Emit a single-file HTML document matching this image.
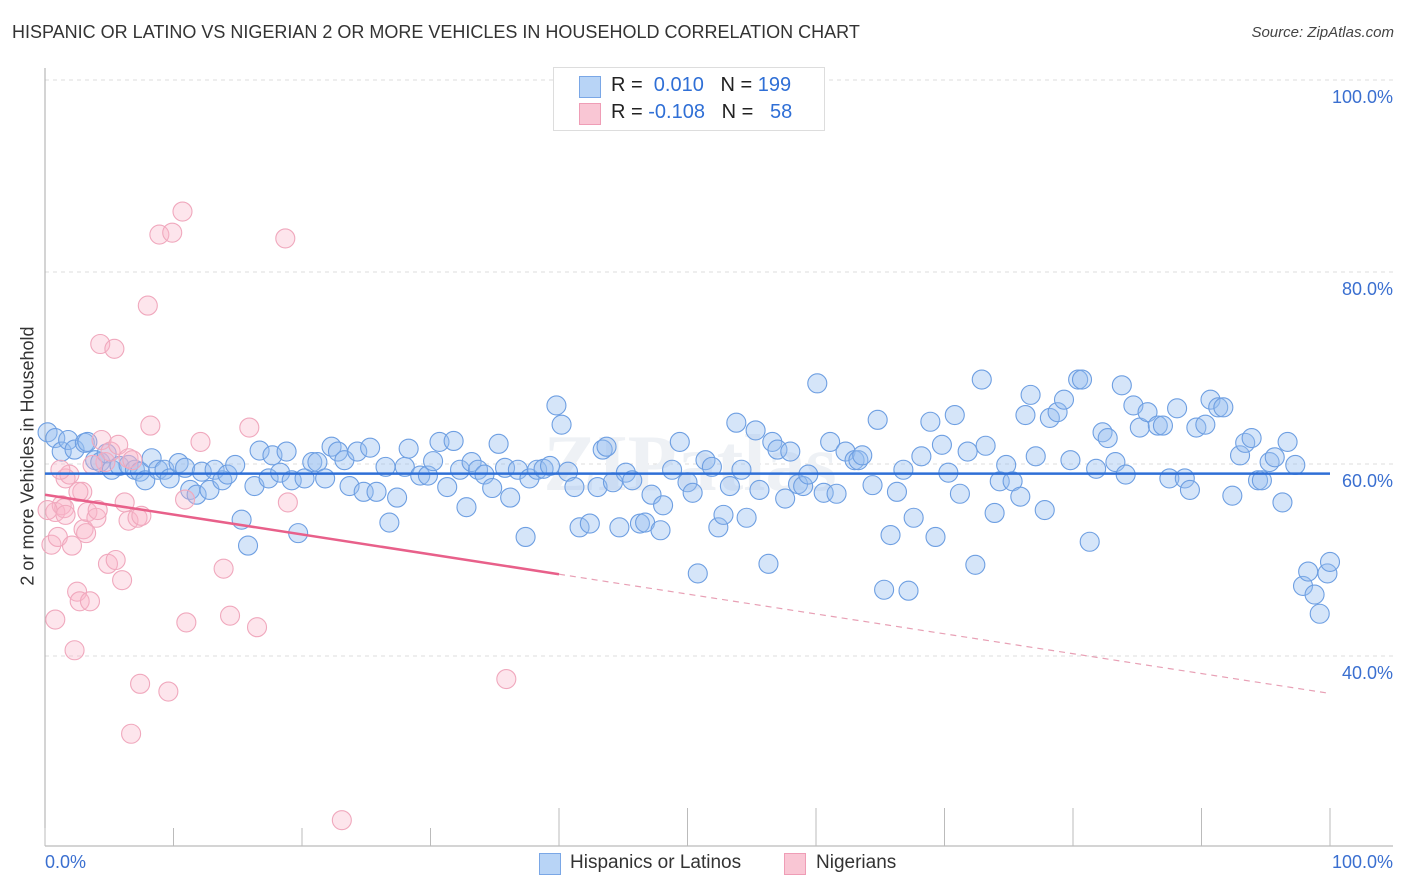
<!DOCTYPE html>
<html><head><meta charset="utf-8"><style>
body{margin:0;background:#fff;font-family:"Liberation Sans",sans-serif}
#wrap{position:relative;width:1406px;height:892px;overflow:hidden}
.t{position:absolute;white-space:nowrap}
</style></head><body>
<div id="wrap">
<div class="t" style="left:12px;top:22px;font-size:18px;color:#333">HISPANIC OR LATINO VS NIGERIAN 2 OR MORE VEHICLES IN HOUSEHOLD CORRELATION CHART</div>
<div class="t" style="right:12px;top:24px;font-size:15px;color:#444;font-style:italic">Source: ZipAtlas.com</div>
<svg id="svg" width="1406" height="892" style="position:absolute;left:0;top:0"></svg>
</div>
<script>
const blueX=[0.2,0.8,1.3,1.8,2.3,3.1,3.3,3.9,4.3,4.8,5.2,5.8,6.5,7.0,7.4,7.8,8.3,8.8,9.3,9.7,10.4,10.9,11.3,11.8,12.2,12.8,13.2,13.8,14.2,14.8,15.3,15.8,16.3,16.7,17.4,17.7,18.3,18.8,19.2,19.7,20.2,20.8,21.2,21.8,22.3,22.8,23.3,23.7,24.3,24.8,25.3,25.8,26.5,26.8,27.4,28.0,28.3,29.2,29.8,30.2,30.7,31.3,31.8,32.3,32.8,33.2,33.7,34.2,34.8,35.3,35.8,36.2,36.8,37.4,37.7,38.3,38.8,39.3,39.8,40.2,40.7,41.2,41.6,42.4,43.0,43.4,43.7,44.2,44.7,45.2,45.7,46.3,46.7,47.2,47.9,48.1,48.8,49.4,50.0,50.4,50.8,51.4,51.9,52.4,52.8,53.3,53.8,54.2,54.6,55.3,55.6,56.3,56.6,57.0,57.6,58.0,58.6,59.0,59.4,60.1,60.6,61.1,61.6,62.3,63.0,63.3,63.6,64.4,64.8,65.3,65.8,66.3,66.8,67.2,67.6,68.2,68.9,69.3,69.8,70.3,70.8,71.2,71.8,72.4,72.9,73.2,73.9,74.3,74.8,75.3,75.9,76.3,76.7,77.1,77.8,78.2,78.8,79.3,79.8,80.4,80.7,81.3,81.8,82.3,82.7,83.3,83.8,84.1,84.7,85.2,85.8,86.6,87.0,87.5,88.1,88.7,89.1,89.6,90.3,90.7,91.3,91.7,92.4,93.0,93.4,93.9,94.4,94.7,95.3,95.7,96.3,96.7,97.3,97.9,98.3,98.8,99.2,99.8,100];
const blueY=[63.3,62.7,61.3,62.5,61.5,62.2,62.3,60.4,60.2,61.1,59.4,59.8,59.9,59.4,59.2,58.3,60.6,59.4,59.4,58.5,60.1,59.6,57.3,56.8,59.2,57.3,59.4,58.3,58.9,59.9,54.2,51.5,57.7,61.4,58.5,60.9,59.1,61.3,58.3,52.8,58.5,60.2,60.2,58.5,61.8,61.3,60.4,57.7,61.3,57.1,61.7,57.1,59.7,53.9,56.5,59.7,61.6,58.8,58.8,60.3,62.3,57.6,62.4,59.4,55.5,60.2,59.4,58.9,57.5,62.1,59.6,56.5,59.4,52.4,58.5,59.4,59.5,59.8,66.1,64.1,59.2,57.6,53.4,53.8,57.6,61.5,61.8,58.1,53.4,59.1,58.3,53.8,53.9,56.8,53.1,55.7,59.4,62.3,58.1,57.0,48.6,60.4,59.7,53.4,54.7,57.7,64.3,59.4,54.4,63.5,57.3,49.6,62.3,61.5,56.4,61.3,57.9,57.7,58.9,68.4,57.0,62.3,56.9,61.3,60.4,60.4,60.9,57.8,64.6,46.9,52.6,57.1,59.4,46.8,54.4,60.8,64.4,52.4,62.0,59.1,65.1,56.9,61.3,49.5,68.8,61.9,54.9,58.2,59.9,58.2,56.6,65.1,67.2,60.8,55.2,64.8,65.4,66.7,60.4,68.8,68.8,51.9,59.5,63.3,62.7,60.2,68.2,58.9,66.1,63.8,65.4,64.0,64.0,58.5,65.8,58.5,57.3,63.8,64.1,66.7,65.9,65.9,56.7,60.9,62.2,62.7,58.3,58.3,60.2,60.7,56.0,62.3,59.9,47.3,48.8,46.4,44.4,48.6,49.8];
const pinkX=[0.5,0.8,0.8,1.0,1.3,1.5,1.6,1.9,2.1,2.3,2.5,2.7,2.9,3.0,3.2,3.3,3.5,4.0,4.1,4.3,4.4,4.7,4.9,5.1,5.4,5.5,5.7,6.0,6.2,6.5,6.5,6.8,7.2,7.4,7.5,8.0,8.2,8.9,9.6,9.9,10.7,10.9,11.0,12.1,13.9,14.4,15.9,16.5,18.7,18.9,23.1,35.9,0.2,1.2,1.6,2.6,3.7,6.7];
const pinkY=[51.6,43.8,55.0,52.4,55.7,55.4,58.5,58.9,51.5,40.6,46.7,45.7,57.1,53.2,52.8,55.0,45.7,54.4,55.2,72.5,62.5,60.2,49.6,61.3,72.0,50.0,62.0,47.9,56.0,60.6,54.1,60.4,54.4,37.1,54.6,76.5,64.0,83.9,36.3,84.1,86.3,56.3,43.5,62.3,49.1,44.2,63.8,43.0,83.5,56.0,22.9,37.6,55.2,59.4,54.7,57.1,59.9,31.9];
const blueTrend=[59.0,59.0];
const pinkTrend=[56.8,36.1];
const yTicks=[100,80,60,40];
const yTickLabels=["100.0%","80.0%","60.0%","40.0%"];
const xTicks=[0,10,20,30,40,50,60,70,80,90,100];

const X0=45,X1=1330,Y100=80,PX=9.6;
const sx=v=>X0+(X1-X0)*v/100;
const sy=v=>Y100+(100-v)*PX;
const svg=document.getElementById('svg');
const NS='http://www.w3.org/2000/svg';
function mk(tag,attrs,parent){const e=document.createElementNS(NS,tag);for(const k in attrs)e.setAttribute(k,attrs[k]);(parent||svg).appendChild(e);return e;}

yTicks.forEach((v,i)=>{
  const g=mk('line',{x1:X0,x2:1395,y1:sy(v),y2:sy(v),stroke:'#ddd','stroke-dasharray':'4,4'});
  
  
  const t=mk('text',{x:1393,y:sy(v)+23,'text-anchor':'end','font-size':18,fill:'#3a6fd0','font-family':'Liberation Sans, sans-serif'});
  t.textContent=yTickLabels[i];
  
  
});
const ax=mk('line',{x1:X0,x2:X0,y1:68,y2:846,stroke:'#aaa'});


const bx=mk('line',{x1:X0,x2:1393,y1:846,y2:846,stroke:'#aaa'});


xTicks.forEach(v=>{
  const tk=mk('line',{x1:sx(v),x2:sx(v),y1:v>=40?808:828,y2:846,stroke:'#bbb'});
  
  
});
const wm=mk('text',{x:690,y:490,'text-anchor':'middle','font-size':80,fill:'#eef1f5','font-family':'Liberation Serif, serif','font-weight':'bold'});
wm.textContent='ZIPatlas';



blueX.forEach((x,i)=>{
  const c=mk('circle',{cx:sx(x),cy:sy(blueY[i]),r:9.5,fill:'rgba(150,190,240,0.4)',stroke:'#6e9fe2','stroke-width':1.1});
  
  
});
pinkX.forEach((x,i)=>{
  const c=mk('circle',{cx:sx(x),cy:sy(pinkY[i]),r:9.5,fill:'rgba(248,180,200,0.35)',stroke:'#f0a8bd','stroke-width':1.1});
  
  
});
const bt=mk('line',{x1:sx(0),x2:sx(100),y1:sy(blueTrend[0]),y2:sy(blueTrend[1]),stroke:'#2f6fd6','stroke-width':2.5});


const pAt=x=>pinkTrend[0]+(pinkTrend[1]-pinkTrend[0])*x/100;
const pt=mk('line',{x1:sx(0),x2:sx(40),y1:sy(pAt(0)),y2:sy(pAt(40)),stroke:'#e8608a','stroke-width':2.5});


const pd=mk('line',{x1:sx(40),x2:sx(100),y1:sy(pAt(40)),y2:sy(pAt(100)),stroke:'#e8a0b5','stroke-width':1.2,'stroke-dasharray':'6,5'});


</script>
<div class="t" style="left:553px;top:67px;width:270px;height:62px;border:1px solid #ddd;background:#fff">
  <div class="t" style="left:25px;top:8px;width:20px;height:20px;background:#b8d4f6;border:1px solid #7aa7e6"></div>
  <div class="t" style="left:57px;top:6px;font-size:20px;color:#222">R = <span style="color:#2f6fd6">&nbsp;0.010</span>&nbsp;&nbsp;&nbsp;N = <span style="color:#2f6fd6">199</span></div>
  <div class="t" style="left:25px;top:35px;width:20px;height:20px;background:#f9c6d4;border:1px solid #ef9db6"></div>
  <div class="t" style="left:57px;top:33px;font-size:20px;color:#222">R = <span style="color:#2f6fd6">-0.108</span>&nbsp;&nbsp;&nbsp;N = <span style="color:#2f6fd6">&nbsp;&nbsp;58</span></div>
</div>
<div class="t" style="left:45px;top:852px;font-size:18px;color:#3a6fd0">0.0%</div>
<div class="t" style="right:13px;top:852px;font-size:18px;color:#3a6fd0">100.0%</div>
<div class="t" style="top:456px;font-size:18px;color:#333;transform:translate(-50%,-50%) rotate(-90deg);left:28px">2 or more Vehicles in Household</div>
<div class="t" style="left:539px;top:853px;width:20px;height:20px;background:#b8d4f6;border:1px solid #7aa7e6"></div>
<div class="t" style="left:570px;top:852px;font-size:19px;color:#333">Hispanics or Latinos</div>
<div class="t" style="left:784px;top:853px;width:20px;height:20px;background:#f9c6d4;border:1px solid #ef9db6"></div>
<div class="t" style="left:816px;top:852px;font-size:19px;color:#333">Nigerians</div>
</body></html>
